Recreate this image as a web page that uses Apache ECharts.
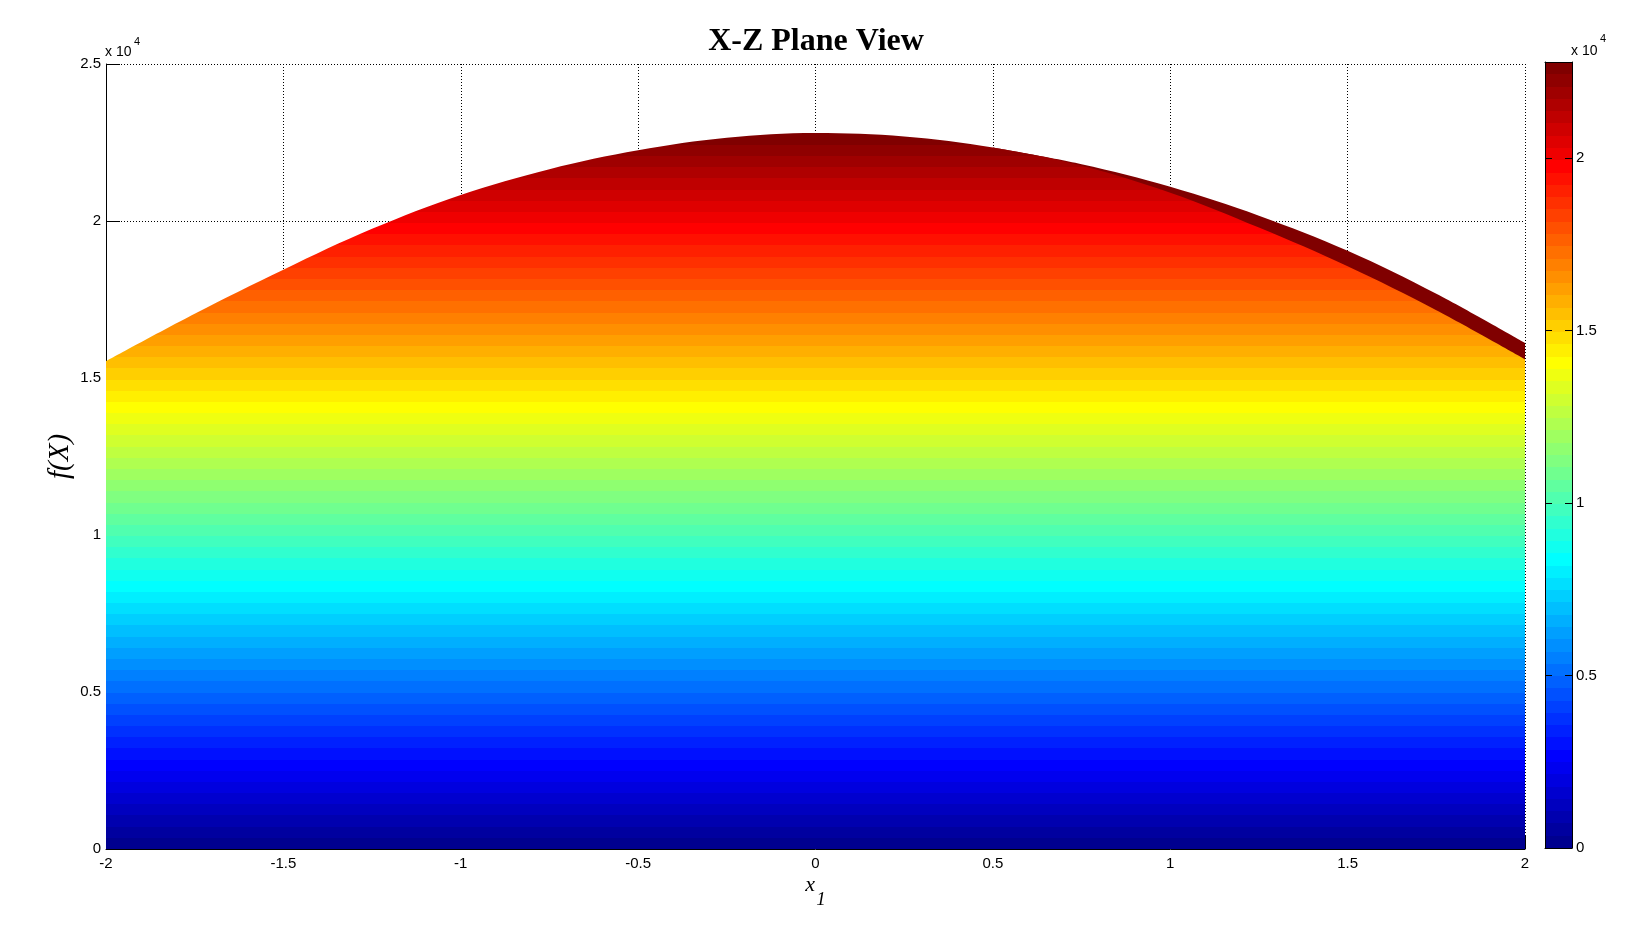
<!DOCTYPE html>
<html>
<head>
<meta charset="utf-8">
<script src="https://cdn.jsdelivr.net/npm/echarts@6/dist/echarts.min.js"></script>
<style>
html,body{margin:0;padding:0;background:#fff;}
#c{width:1632px;height:945px;}
</style>
</head>
<body>
<div id="c"></div>
<script>
// ---- data ----
const xValues = [-2, -1.75, -1.5, -1.25, -1, -0.75, -0.5, -0.25, 0, 0.25, 0.5, 0.75, 1, 1.25, 1.5, 1.75, 2];
const surfaceTop = [15540, 17050, 18450, 19750, 20830, 21650, 22250, 22650, 22800, 22690, 22340, 21760, 20900, 19790, 18560, 17160, 15600];
const bandX = [0.5, 0.75, 1, 1.25, 1.5, 1.75, 2];
const bandTop = [22340, 21810, 21090, 20170, 19050, 17680, 16115];
const colorMax = 22780;
const yMax = 25000;
const yStep = 5000;
const xStep = 0.5;

// ---- MATLAB jet(64) colormap (style) ----
function jet64(k) {
  const r = k <= 24 ? 0 : k <= 40 ? (k - 24) / 16 : k <= 56 ? 1 : (72 - k) / 16;
  const g = k <= 8 ? 0 : k <= 24 ? (k - 8) / 16 : k <= 40 ? 1 : k <= 56 ? (56 - k) / 16 : 0;
  const b = k <= 8 ? (k + 8) / 16 : k <= 24 ? 1 : k <= 40 ? (40 - k) / 16 : 0;
  return 'rgb(' + Math.round(r * 255) + ',' + Math.round(g * 255) + ',' + Math.round(b * 255) + ')';
}
const jetColors = [];
for (let k = 1; k <= 64; k++) jetColors.push(jet64(k));
const pieceStep = colorMax / 64;
const pieces = jetColors.map((c, i) => ({
  gte: i * pieceStep,
  lt: i === 63 ? 1e7 : (i + 1) * pieceStep,
  color: c
}));
const cbStops = [];
jetColors.forEach((c, i) => {
  cbStops.push({offset: i / 64, color: c}, {offset: (i + 1) / 64, color: c});
});

const fmt = v => (v % yStep === 0 ? String(v / 10000) : '');
const labelFont = {color: '#000', fontSize: 15, fontFamily: 'Liberation Sans, Arial, sans-serif'};

const chart = echarts.init(document.getElementById('c'), null, {renderer: 'canvas'});
chart.setOption({
  animation: false,
  backgroundColor: '#fff',
  textStyle: {fontFamily: 'Liberation Sans, Arial, sans-serif'},
  title: {
    text: 'X-Z Plane View',
    left: 'center',
    top: 21,
    textStyle: {fontFamily: 'Liberation Serif, Times New Roman, serif', fontWeight: 'bold', fontSize: 32, color: '#000'}
  },
  grid: [
    {left: 106, top: 64, width: 1419, height: 785},
    {left: 1545, top: 62, width: 27, height: 786}
  ],
  xAxis: [
    {
      gridIndex: 0, type: 'value', min: -2, max: 2, interval: xStep,
      axisLine: {show: true, onZero: false, lineStyle: {color: '#000', width: 1}},
      axisTick: {show: true, inside: true, length: 14, lineStyle: {color: '#000'}},
      axisLabel: Object.assign({margin: 7}, labelFont),
      splitLine: {show: true, lineStyle: {color: '#000', type: [1, 2], width: 1}},
      name: '{x|x}{s|1}',
      nameLocation: 'middle',
      nameGap: 13,
      nameMoveOverlap: false,
      nameTextStyle: {
        rich: {
          x: {fontFamily: 'Liberation Serif, serif', fontStyle: 'italic', fontSize: 22, color: '#000'},
          s: {fontFamily: 'Liberation Serif, serif', fontStyle: 'italic', fontSize: 19, color: '#000', padding: [28, 0, 0, 1]}
        }
      }
    },
    {
      gridIndex: 1, type: 'category', data: [''], position: 'bottom', z: 10,
      axisLine: {show: true, onZero: false, lineStyle: {color: '#000'}},
      axisTick: {show: false}, axisLabel: {show: false}, splitLine: {show: false}
    },
    {
      gridIndex: 1, type: 'category', data: [''], position: 'top', z: 10,
      axisLine: {show: true, onZero: false, lineStyle: {color: '#000'}},
      axisTick: {show: false}, axisLabel: {show: false}, splitLine: {show: false}
    }
  ],
  yAxis: [
    {
      gridIndex: 0, type: 'value', min: 0, max: yMax, interval: yStep,
      axisLine: {show: true, onZero: false, lineStyle: {color: '#000', width: 1}},
      axisTick: {show: true, inside: true, length: 14, lineStyle: {color: '#000'}},
      axisLabel: Object.assign({margin: 5, formatter: fmt}, labelFont),
      splitLine: {show: true, lineStyle: {color: '#000', type: [1, 2], width: 1}},
      name: 'f(X)',
      nameLocation: 'middle',
      nameGap: 31,
      nameMoveOverlap: false,
      nameTextStyle: {fontFamily: 'Liberation Serif, serif', fontStyle: 'italic', fontSize: 29, color: '#000'}
    },
    {
      gridIndex: 1, type: 'value', position: 'right', min: 0, max: colorMax, interval: yStep, z: 10,
      axisLine: {show: true, onZero: false, lineStyle: {color: '#000'}},
      axisTick: {show: true, inside: true, length: 7, lineStyle: {color: '#000'}},
      axisLabel: Object.assign({margin: 4, formatter: fmt}, labelFont),
      splitLine: {show: false}
    },
    {
      gridIndex: 1, type: 'value', position: 'left', min: 0, max: colorMax, interval: yStep, z: 10,
      axisLine: {show: true, onZero: false, lineStyle: {color: '#000'}},
      axisTick: {show: true, inside: true, length: 7, lineStyle: {color: '#000'}},
      axisLabel: {show: false},
      splitLine: {show: false}
    }
  ],
  visualMap: {
    type: 'piecewise',
    show: false,
    dimension: 1,
    seriesIndex: 1,
    pieces: pieces
  },
  graphic: [
    {type: 'text', left: 105, top: 45, style: {text: 'x 10', font: '14px "Liberation Sans", Arial', fill: '#000'}},
    {type: 'text', left: 134, top: 36, style: {text: '4', font: '11px "Liberation Sans", Arial', fill: '#000'}},
    {type: 'text', left: 1571, top: 44, style: {text: 'x 10', font: '14px "Liberation Sans", Arial', fill: '#000'}},
    {type: 'text', left: 1600, top: 33, style: {text: '4', font: '11px "Liberation Sans", Arial', fill: '#000'}}
  ],
  series: [
    {
      name: 'ridge',
      type: 'line',
      xAxisIndex: 0, yAxisIndex: 0,
      data: bandX.map((x, i) => [x, bandTop[i]]),
      smooth: 0.35,
      showSymbol: false,
      lineStyle: {width: 0},
      areaStyle: {color: '#800000', opacity: 1},
      z: 1,
      silent: true
    },
    {
      name: 'surface',
      type: 'line',
      xAxisIndex: 0, yAxisIndex: 0,
      data: xValues.map((x, i) => [x, surfaceTop[i]]),
      smooth: 0.35,
      showSymbol: false,
      lineStyle: {width: 0},
      areaStyle: {opacity: 1},
      z: 2,
      silent: true
    },
    {
      name: 'colorbar',
      type: 'bar',
      xAxisIndex: 1, yAxisIndex: 1,
      data: [colorMax],
      barWidth: '100%',
      itemStyle: {color: new echarts.graphic.LinearGradient(0, 1, 0, 0, cbStops)},
      z: 2,
      silent: true
    }
  ]
});
</script>
</body>
</html>
